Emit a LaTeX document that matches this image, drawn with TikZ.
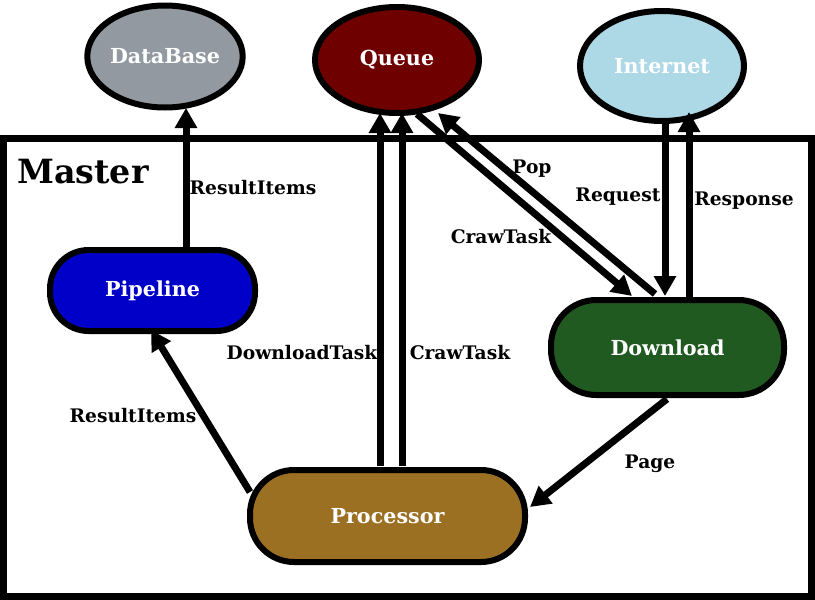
\documentclass[tikz,border=0pt]{standalone}
\usepackage{fontspec}
\setmainfont{DejaVu Serif}
\usetikzlibrary{shapes.geometric,arrows.meta,calc}
\definecolor{dbgray}{RGB}{146,153,160}
\definecolor{queuered}{RGB}{110,0,0}
\definecolor{netblue}{RGB}{173,216,230}
\definecolor{pipeblue}{RGB}{0,0,200}
\definecolor{dlgreen}{RGB}{33,90,33}
\definecolor{procbrown}{RGB}{156,112,34}
\tikzset{
  ovalnode/.style={ellipse, draw=black, line width=4.5pt, text=white, font=\bfseries\fontsize{15.5}{15.5}\selectfont, inner sep=0pt},
  pillnode/.style={rectangle, draw=black, line width=4.5pt, text=white, font=\bfseries\fontsize{15.5}{15.5}\selectfont, inner sep=0pt},
  arr/.style={line width=5.25pt, -{Triangle[length=15pt,width=16pt]}},
  lbl/.style={font=\bfseries\fontsize{14}{14}\selectfont, text=black, inner sep=0pt},
  framebox/.style={draw=black, line width=5.25pt}
}
\begin{document}
\begin{tikzpicture}[x=0.75pt,y=-0.75pt]
\useasboundingbox (0,0) rectangle (815,600);
\fill[white] (0,0) rectangle (815,600);
% Master frame
\draw[framebox] (3.5,138) rectangle (811,596);
\node[font=\bfseries\fontsize{25}{25}\selectfont, inner sep=0pt] (master) at (83,172) {Master};
% Nodes
\node[ovalnode, fill=dbgray, minimum width=111.75pt, minimum height=76.5pt] (db) at (165,56.5) {DataBase};
\node[ovalnode, fill=queuered, minimum width=123pt, minimum height=79.5pt] (queue) at (397,60) {Queue};
\node[ovalnode, fill=netblue, minimum width=123pt, minimum height=82.5pt] (inet) at (662,66) {Internet};
\node[pillnode, fill=pipeblue, minimum width=153.75pt, minimum height=60.75pt, rounded corners=29pt] (pipe) at (152.5,290.5) {Pipeline};
\node[pillnode, fill=dlgreen, minimum width=174.75pt, minimum height=71.25pt, rounded corners=34pt] (dl) at (667.5,347.5) {Download};
\node[pillnode, fill=procbrown, minimum width=206.25pt, minimum height=69pt, rounded corners=33pt] (proc) at (387.5,516) {Processor};
% Connector end points
\coordinate (a1s) at ($(pipe.center)+(33.5,-41.5)$);
\coordinate (a1e) at ($(db.center)+(21,51.5)$);
\coordinate (a2s) at ($(proc.center)+(-137.5,-24)$);
\coordinate (a2e) at ($(pipe.center)+(-1.5,39.5)$);
\coordinate (a3s) at ($(proc.center)+(-7.5,-50)$);
\coordinate (a3e) at ($(queue.center)+(-17,53)$);
\coordinate (a4s) at ($(proc.center)+(14.5,-50)$);
\coordinate (a4e) at ($(queue.center)+(5,53)$);
\coordinate (a5s) at ($(queue.center)+(20,54)$);
\coordinate (a5e) at ($(dl.center)+(-35.5,-51.5)$);
\coordinate (a6s) at ($(dl.center)+(-12.5,-53.5)$);
\coordinate (a6e) at ($(queue.center)+(41,53)$);
\coordinate (a7s) at ($(inet.center)+(3,57)$);
\coordinate (a7e) at ($(dl.center)+(-2.5,-51.5)$);
\coordinate (a8s) at ($(dl.center)+(21.5,-50.5)$);
\coordinate (a8e) at ($(inet.center)+(27,46)$);
\coordinate (a9s) at ($(dl.center)+(-0.5,51.5)$);
\coordinate (a9e) at ($(proc.center)+(142.5,-9)$);
% Connectors
\draw[arr] (a1s) -- (a1e);
\draw[arr] (a2s) -- (a2e);
\draw[arr] (a3s) -- (a3e);
\draw[arr] (a4s) -- (a4e);
\draw[arr] (a5s) -- (a5e);
\draw[arr] (a6s) -- (a6e);
\draw[arr] (a7s) -- (a7e);
\draw[arr] (a8s) -- (a8e);
\draw[arr] (a9s) -- (a9e);
% Labels
\node[lbl] (l1) at (253,188) {ResultItems};
\node[lbl] (l2) at (133,416) {ResultItems};
\node[lbl] (l3) at (302,353) {DownloadTask};
\node[lbl] (l4) at (460,353) {CrawTask};
\node[lbl] (l5) at (501,237) {CrawTask};
\node[lbl] (l6) at (532,169) {Pop};
\node[lbl] (l7) at (618,197) {Request};
\node[lbl] (l8) at (744,201) {Response};
\node[lbl] (l9) at (650,464) {Page};
\end{tikzpicture}
\end{document}
